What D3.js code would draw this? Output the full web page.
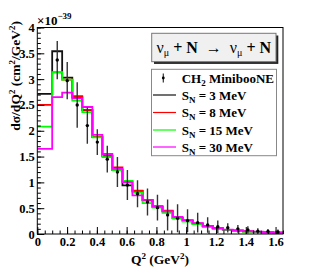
<!DOCTYPE html>
<html>
<head>
<meta charset="utf-8">
<script src="https://cdn.jsdelivr.net/npm/d3@7"></script>
<style>
  body { margin: 0; background: #fff; }
  svg { display: block; font-family: "Liberation Serif", "Times New Roman", serif; font-weight: bold; }
</style>
</head>
<body>
<div class="chart"></div>
<script>
// Bin edges in Q^2 (GeV^2); the first bin 0-0.1 is only filled by the models
const binEdges = [0, 0.1, 0.167, 0.235, 0.302, 0.370, 0.437, 0.504, 0.572, 0.639, 0.707, 0.774,
  0.841, 0.909, 0.976, 1.043, 1.111, 1.178, 1.246, 1.313, 1.380, 1.448, 1.515, 1.583, 1.65];

// Model histograms, x 1e-39 cm^2/GeV^2
const sn3  = [2.715, 3.54, 3.03, 2.65, 2.40, 1.875, 1.51, 1.24, 0.94, 0.835, 0.65, 0.52, 0.44, 0.31, 0.26, 0.20, 0.15, 0.11, 0.08, 0.065, 0.05, 0.04, 0.03, 0.025];
const sn8  = [2.50, 3.13, 2.99, 2.67, 2.405, 1.88, 1.52, 1.29, 1.02, 0.84, 0.66, 0.54, 0.45, 0.31, 0.26, 0.20, 0.15, 0.11, 0.08, 0.065, 0.05, 0.04, 0.03, 0.025];
const sn15 = [2.08, 3.135, 2.99, 2.585, 2.36, 1.87, 1.49, 1.24, 1.03, 0.80, 0.60, 0.51, 0.41, 0.30, 0.24, 0.19, 0.14, 0.105, 0.075, 0.06, 0.045, 0.035, 0.028, 0.022];
const sn30 = [1.65, 2.65, 2.74, 2.63, 2.46, 1.92, 1.55, 1.26, 1.00, 0.75, 0.66, 0.53, 0.44, 0.33, 0.27, 0.21, 0.155, 0.115, 0.085, 0.07, 0.055, 0.045, 0.035, 0.028];

// MiniBooNE CH2 points
const dataQ2  = [0.134, 0.201, 0.268, 0.336, 0.403, 0.470, 0.538, 0.605, 0.673, 0.740, 0.807, 0.875,
  0.942, 1.009, 1.077, 1.144, 1.212, 1.279, 1.347, 1.414, 1.481, 1.549, 1.616];
const dataXs  = [3.37, 2.97, 2.50, 2.10, 1.78, 1.45, 1.20, 0.95, 0.78, 0.62, 0.51, 0.37, 0.305, 0.26, 0.22, 0.175, 0.14, 0.12, 0.10, 0.08, 0.055, 0.05, 0.04];
const dataErr = [0.37, 0.36, 0.44, 0.35, 0.25, 0.26, 0.29, 0.29, 0.26, 0.26, 0.25, 0.30, 0.27, 0.22, 0.19, 0.15, 0.12, 0.09, 0.075, 0.07, 0.055, 0.045, 0.045];

const xTicks = [0, 0.2, 0.4, 0.6, 0.8, 1, 1.2, 1.4, 1.6];
const yTicks = [0, 0.5, 1, 1.5, 2, 2.5, 3, 3.5, 4];
const modelLabels = ["3 MeV", "8 MeV", "15 MeV", "30 MeV"];
const modelColors = ["#111", "#ff0000", "#00ff00", "#ff00ff"];
const models = [sn3, sn8, sn15, sn30];

const margin = {top: 27.5, right: 32, bottom: 42, left: 37.3};
const width = 315 - margin.left - margin.right;
const height = 276 - margin.top - margin.bottom;

const x = d3.scaleLinear().domain([0, 1.65]).range([0, width]);
const y = d3.scaleLinear().domain([0, 4]).range([height, 0]);

const svg = d3.select(".chart").append("svg")
    .attr("width", 315)
    .attr("height", 276);

const g = svg.append("g")
    .attr("transform", "translate(" + margin.left + "," + margin.top + ")");

g.append("clipPath").attr("id", "clip")
  .append("rect").attr("width", width).attr("height", height);

// histograms as steps
const step = d3.line()
    .x(d => x(d.x))
    .y(d => y(d.y))
    .curve(d3.curveStepAfter);

const plot = g.append("g").attr("clip-path", "url(#clip)");

models.forEach((vals, k) => {
  const pts = vals.map((v, i) => ({x: binEdges[i], y: v}));
  pts.push({x: binEdges[binEdges.length - 1], y: vals[vals.length - 1]});
  plot.append("path")
      .datum(pts)
      .attr("fill", "none")
      .attr("stroke", modelColors[k])
      .attr("stroke-width", 1.8)
      .attr("d", step);
});

// data with error bars
const pts = plot.selectAll(".pt")
  .data(dataQ2.map((q, i) => ({q: q, v: dataXs[i], e: dataErr[i]})))
  .join("g").attr("class", "pt");

pts.append("line")
    .attr("x1", d => x(d.q)).attr("x2", d => x(d.q))
    .attr("y1", d => y(d.v + d.e)).attr("y2", d => y(Math.max(d.v - d.e, 0)))
    .attr("stroke", "#333")
    .attr("stroke-width", 1.4);

pts.append("circle")
    .attr("cx", d => x(d.q)).attr("cy", d => y(d.v))
    .attr("r", 1.7)
    .attr("fill", "#000");

// axes, ticks on the inside
function styleAxis(sel) {
  sel.select(".domain").remove();
  sel.attr("font-family", null).attr("font-size", 12.5);
  sel.selectAll("text").attr("fill", "#000");
  sel.selectAll("line").attr("stroke", "#000");
}

g.append("g")
    .attr("transform", "translate(0," + height + ")")
    .call(d3.axisBottom(x).tickValues(d3.range(0, 1.651, 0.05)).tickSize(-3.5).tickFormat(""))
    .call(styleAxis);
g.append("g")
    .attr("transform", "translate(0," + height + ")")
    .call(d3.axisBottom(x).tickValues(xTicks).tickSize(-7).tickPadding(3).tickFormat(d3.format("~g")))
    .call(styleAxis);

g.append("g")
    .call(d3.axisLeft(y).tickValues(d3.range(0, 4.01, 0.1)).tickSize(-3.5).tickFormat(""))
    .call(styleAxis);
g.append("g")
    .call(d3.axisLeft(y).tickValues(yTicks).tickSize(-7).tickPadding(2.5).tickFormat(d3.format("~g")))
    .call(styleAxis);

// frame
g.append("rect")
    .attr("width", width).attr("height", height)
    .attr("fill", "none").attr("stroke", "#000").attr("stroke-width", 1);

// exponent
const ex = svg.append("text").attr("x", 37).attr("y", 25).attr("font-size", 13);
ex.append("tspan").text("×10");
ex.append("tspan").attr("dy", -6).attr("font-size", 9).text("−39");

// axis titles
const yl = svg.append("text")
    .attr("transform", "translate(20,21) rotate(-90)")
    .attr("text-anchor", "end")
    .attr("font-size", 13.5);
yl.append("tspan").text("dσ/dQ");
yl.append("tspan").attr("font-size", 9).attr("dy", -5).text("2");
yl.append("tspan").attr("dy", 5).text(" (cm");
yl.append("tspan").attr("font-size", 9).attr("dy", -5).text("2");
yl.append("tspan").attr("dy", 5).text("/GeV");
yl.append("tspan").attr("font-size", 9).attr("dy", -5).text("2");
yl.append("tspan").attr("dy", 5).text(")");

const xl = svg.append("text")
    .attr("x", 160).attr("y", 264)
    .attr("text-anchor", "middle")
    .attr("font-size", 13.5);
xl.append("tspan").text("Q");
xl.append("tspan").attr("font-size", 9).attr("dy", -5).text("2");
xl.append("tspan").attr("dy", 5).text(" (GeV");
xl.append("tspan").attr("font-size", 9).attr("dy", -5).text("2");
xl.append("tspan").attr("dy", 5).text(")");

// reaction box
svg.append("rect").attr("x", 154).attr("y", 35.5).attr("width", 124.3).attr("height", 28.4).attr("fill", "#222");
svg.append("rect").attr("x", 151.7).attr("y", 33.3).attr("width", 124.3).attr("height", 28.4)
    .attr("fill", "#f0f0f0").attr("stroke", "#777").attr("stroke-width", 1);
const rt = svg.append("text").attr("x", 213.8).attr("y", 53).attr("text-anchor", "middle").attr("font-size", 16);
rt.append("tspan").attr("font-weight", "normal").text("ν");
rt.append("tspan").attr("font-weight", "normal").attr("font-size", 10).attr("dy", 3).text("μ");
rt.append("tspan").attr("dy", -3).text(" + N");
rt.append("tspan").attr("font-weight", "normal").text("\u2002→\u2002");
rt.append("tspan").attr("font-weight", "normal").text("ν");
rt.append("tspan").attr("font-weight", "normal").attr("font-size", 10).attr("dy", 3).text("μ");
rt.append("tspan").attr("dy", -3).text(" + N");

// legend
const lg = svg.append("g");
lg.append("rect").attr("x", 151.5).attr("y", 69.3).attr("width", 125).attr("height", 86.4)
    .attr("fill", "#fff").attr("stroke", "#888").attr("stroke-width", 1);
const rowY = [78, 95, 112.5, 130, 147];

lg.append("line").attr("x1", 163.3).attr("x2", 163.3).attr("y1", rowY[0] - 4.5).attr("y2", rowY[0] + 4.5)
    .attr("stroke", "#333").attr("stroke-width", 1.2);
lg.append("circle").attr("cx", 163.3).attr("cy", rowY[0]).attr("r", 1.4).attr("fill", "#000");
const t0 = lg.append("text").attr("x", 181.7).attr("y", rowY[0] + 4.5).attr("font-size", 13);
t0.append("tspan").text("CH");
t0.append("tspan").attr("font-size", 9).attr("dy", 3).text("2");
t0.append("tspan").attr("dy", -3).text(" MinibooNE");

modelLabels.forEach((lab, k) => {
  const yy = rowY[k + 1];
  lg.append("line").attr("x1", 153).attr("x2", 176).attr("y1", yy).attr("y2", yy)
      .attr("stroke", modelColors[k]).attr("stroke-width", 1.2);
  const t = lg.append("text").attr("x", 181.7).attr("y", yy + 4.5).attr("font-size", 13);
  t.append("tspan").text("S");
  t.append("tspan").attr("font-size", 9).attr("dy", 3).text("N");
  t.append("tspan").attr("dy", -3).text(" = " + lab);
});
</script>
</body>
</html>
